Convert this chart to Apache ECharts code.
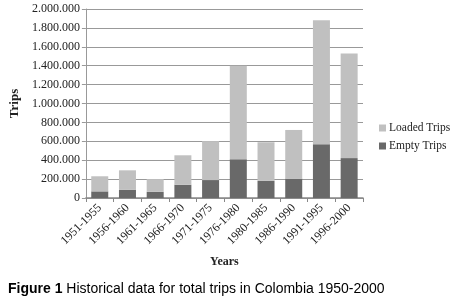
<!DOCTYPE html>
<html>
<head>
<meta charset="utf-8">
<script src="https://cdn.jsdelivr.net/npm/echarts@6/dist/echarts.min.js"></script>
<style>
  html, body { margin: 0; padding: 0; background: #fff; }
  #chart { width: 453px; height: 299px; }
</style>
</head>
<body>
<div id="chart"></div>
<script>
// Historical trips in Colombia
const periods = ['1951-1955', '1956-1960', '1961-1965', '1966-1970', '1971-1975',
                 '1976-1980', '1980-1985', '1986-1990', '1991-1995', '1996-2000'];
const emptyTrips  = [70000, 88000, 65000, 140000, 190000, 410000, 182000, 205000, 570000, 422000];
const loadedTrips = [160000, 205000, 135000, 312000, 412000, 990000, 408000, 515000, 1312000, 1108000];

const serif = 'Liberation Serif, DejaVu Serif, serif';
const sans = 'Liberation Sans, Arial, sans-serif';

function dotThousands(v) {
    return String(v).replace(/\B(?=(\d{3})+(?!\d))/g, '.');
}

const chart = echarts.init(document.getElementById('chart'));

chart.setOption({
    animation: false,
    textStyle: { fontFamily: serif },
    grid: { left: 70, right: 90, top: 9, bottom: 101, containLabel: false },
    legend: {
        orient: 'vertical',
        left: 374,
        top: 117,
        itemWidth: 7,
        itemHeight: 7,
        itemGap: 6,
        icon: 'rect',
        data: ['Loaded Trips', 'Empty Trips'],
        textStyle: { fontFamily: serif, fontSize: 11.5, color: '#222', padding: [0, 0, 0, -2] }
    },
    title: {
        text: '{b|Figure 1} Historical data for total trips in Colombia 1950-2000',
        left: 3,
        top: 277,
        textStyle: {
            fontFamily: sans,
            fontSize: 14,
            fontWeight: 'normal',
            color: '#000',
            rich: {
                b: { fontFamily: sans, fontSize: 14, fontWeight: 'bold', color: '#000' }
            }
        }
    },
    xAxis: {
        type: 'category',
        data: periods,
        name: 'Years',
        nameLocation: 'middle',
        nameGap: 58,
        nameTextStyle: { fontFamily: serif, fontSize: 12, fontWeight: 'bold', color: '#222' },
        axisLine: { lineStyle: { color: '#888', width: 1.5 } },
        axisTick: { show: true, length: 4, lineStyle: { color: '#888' } },
        axisLabel: { rotate: 45, fontFamily: serif, fontSize: 12, color: '#222', margin: 8 }
    },
    yAxis: {
        type: 'value',
        min: 0,
        max: 2000000,
        interval: 200000,
        name: 'Trips',
        nameLocation: 'middle',
        nameGap: 60,
        nameTextStyle: { fontFamily: serif, fontSize: 13, fontWeight: 'bold', color: '#222' },
        axisLine: { show: true, lineStyle: { color: '#999' } },
        axisTick: { show: true, length: 4, lineStyle: { color: '#999' } },
        axisLabel: {
            fontFamily: serif, fontSize: 12, color: '#222', margin: 6,
            formatter: dotThousands
        },
        splitLine: { lineStyle: { color: '#999', width: 1 } }
    },
    series: [
        {
            name: 'Empty Trips',
            type: 'bar',
            stack: 'trips',
            barWidth: 17,
            data: emptyTrips,
            itemStyle: { color: '#696969' }
        },
        {
            name: 'Loaded Trips',
            type: 'bar',
            stack: 'trips',
            barWidth: 17,
            data: loadedTrips,
            itemStyle: { color: '#c0c0c0' }
        }
    ]
});

window.addEventListener('resize', function() {
    chart.resize();
});
</script>
</body>
</html>
